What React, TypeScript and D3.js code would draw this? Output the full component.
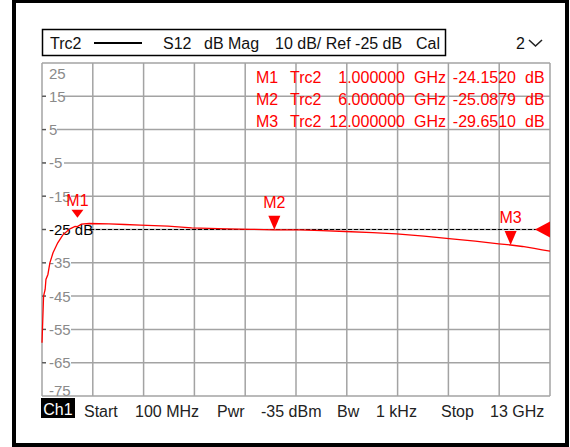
import React from 'react';
import * as d3 from 'd3';

// trace S12 (GHz, dB)
const freqGHz = [0.1, 0.12, 0.14, 0.18, 0.2, 0.25, 0.3, 0.38, 0.5, 0.63, 0.81, 0.94, 1.0, 1.1, 1.3, 1.8, 2.2, 2.6, 3.3, 3.9, 4.8, 5.4, 6.0, 6.65, 7.2, 7.8, 8.5, 9.1, 9.8, 10.5, 11.1, 11.7, 12.0, 12.3, 12.6, 12.8, 13.0];
const traceDb = [-59, -52, -45, -43, -40, -38.5, -35, -32, -29, -26.6, -24.8, -24.1, -24.15, -23.4, -23.2, -23.3, -23.5, -23.7, -24.0, -24.5, -24.8, -24.95, -25.09, -25.1, -25.35, -25.6, -25.95, -26.3, -27.0, -27.8, -28.5, -29.3, -29.65, -30.1, -30.7, -31.1, -31.5];

const markerNames = ['M1', 'M2', 'M3'];
const markerFreq = [1, 6, 12];
const markerDb = [-24.152, -25.0879, -29.651];
const markerFreqText = ['1.000000', '6.000000', '12.000000'];
const markerDbText = ['-24.1520', '-25.0879', '-29.6510'];

const yTicks = [25, 15, 5, -5, -15, -25, -35, -45, -55, -65, -75];
const xDivisions = d3.range(0, 11);

const headerItems = [
  { t: 'Trc2', x: 50 },
  { t: 'S12', x: 163 },
  { t: 'dB Mag', x: 204 },
  { t: '10 dB/ Ref -25 dB', x: 275 },
  { t: 'Cal', x: 416 },
];

const footerItems = [
  { t: 'Start', x: 84 },
  { t: '100 MHz', x: 135 },
  { t: 'Pwr', x: 217 },
  { t: '-35 dBm', x: 261 },
  { t: 'Bw', x: 337 },
  { t: '1 kHz', x: 376 },
  { t: 'Stop', x: 441 },
  { t: '13 GHz', x: 490 },
];

const FONT = '"Liberation Sans Narrow", "Liberation Sans", sans-serif';

export default function App() {
  const left = 42, right = 550, top = 63, bottom = 396;
  const x = d3.scaleLinear().domain([0.1, 13]).range([left, right]);
  const y = d3.scaleLinear().domain([-75, 25]).range([bottom, top]);
  const ref = -25;

  const line = d3.line<number>()
    .x((_, i) => x(freqGHz[i]))
    .y((d) => y(d));

  const grid = '#a3a3a3';

  return (
    <svg width={570} height={447} style={{ position: 'absolute', left: 0, top: 0, fontFamily: FONT }}>
      <rect x={0} y={0} width={570} height={447} fill="#fff" />
      <rect x={14} y={1} width={553} height={444} fill="none" stroke="#000" strokeWidth={4} />

      {/* header */}
      <rect x={42.5} y={29.5} width={403} height={26} fill="none" stroke="#000" strokeWidth={1.5} />
      {headerItems.map((h) => (
        <text key={h.t} x={h.x} y={43} dominantBaseline="central" fontSize={16} fill="#111">{h.t}</text>
      ))}
      <line x1={94} x2={142} y1={43} y2={43} stroke="#000" strokeWidth={2} />
      <text x={516} y={43} dominantBaseline="central" fontSize={16} fill="#111">2</text>
      <polyline points="529,40 535.5,46 542,40" fill="none" stroke="#222" strokeWidth={1.6} />

      {/* grid */}
      {xDivisions.map((i) => (
        <line key={'v' + i} x1={left + (i * (right - left)) / 10} x2={left + (i * (right - left)) / 10}
          y1={top} y2={bottom} stroke={grid} strokeWidth={1.5} />
      ))}
      {yTicks.map((v) => (
        <line key={'h' + v} x1={left} x2={right} y1={y(v)} y2={y(v)} stroke={grid} strokeWidth={1.5} />
      ))}

      {/* y labels */}
      {yTicks.map((v) => {
        const isTop = v === 25, isBottom = v === -75, isRef = v === ref;
        const cy = isTop ? y(v) + 10 : isBottom ? y(v) - 6 : y(v);
        const w = isRef ? 44 : String(v).length * 7 + 4;
        return (
          <g key={'l' + v}>
            {!isTop && !isBottom && <rect x={46} y={cy - 8} width={w} height={16} fill="#fff" />}
            {!isTop && !isBottom && <line x1={left} x2={46} y1={cy} y2={cy} stroke="#555" strokeWidth={1.2} />}
            <text x={49} y={cy} dominantBaseline="central" fontSize={15} fill={isRef ? '#000' : '#8a8a8a'}>
              {isRef ? `${v} dB` : v}
            </text>
          </g>
        );
      })}

      {/* reference line */}
      <line x1={90} x2={536} y1={y(ref)} y2={y(ref)} stroke="#000" strokeWidth={1} strokeDasharray="4,2" />
      <path d={`M${right},${y(ref) - 8}L${right - 15},${y(ref)}L${right},${y(ref) + 8}Z`} fill="#f00" />

      {/* trace */}
      <path d={line(traceDb) || ''} fill="none" stroke="#f00" strokeWidth={1.3} />

      {/* markers */}
      {markerNames.map((m, i) => {
        const mx = x(markerFreq[i]);
        const small = i === 0;
        const tip = small ? y(markerDb[i]) - 9 : y(markerDb[i]);
        const h = small ? 8 : 14;
        const hw = small ? 6 : 6;
        return (
          <g key={m}>
            <path d={`M${mx - hw},${tip - h}L${mx + hw},${tip - h}L${mx},${tip}Z`} fill="#f00" />
            <text x={mx} y={tip - (small ? 17 : 27)} textAnchor="middle" dominantBaseline="central" fontSize={16} fill="#f00">{m}</text>
          </g>
        );
      })}

      {/* marker table */}
      {markerNames.map((m, i) => {
        const ty = 77 + i * 22;
        return (
          <g key={'t' + m} fontSize={16} fill="#f00">
            <text x={256} y={ty} dominantBaseline="central">{m}</text>
            <text x={290} y={ty} dominantBaseline="central">Trc2</text>
            <text x={405} y={ty} dominantBaseline="central" textAnchor="end">{markerFreqText[i]}</text>
            <text x={414} y={ty} dominantBaseline="central">GHz</text>
            <text x={516} y={ty} dominantBaseline="central" textAnchor="end">{markerDbText[i]}</text>
            <text x={525} y={ty} dominantBaseline="central">dB</text>
          </g>
        );
      })}

      {/* footer */}
      <rect x={41} y={398} width={34} height={20} fill="#000" />
      <text x={58} y={409} textAnchor="middle" dominantBaseline="central" fontSize={16} fill="#fff">Ch1</text>
      {footerItems.map((f) => (
        <text key={f.t} x={f.x} y={411} dominantBaseline="central" fontSize={16} fill="#222">{f.t}</text>
      ))}
    </svg>
  );
}
